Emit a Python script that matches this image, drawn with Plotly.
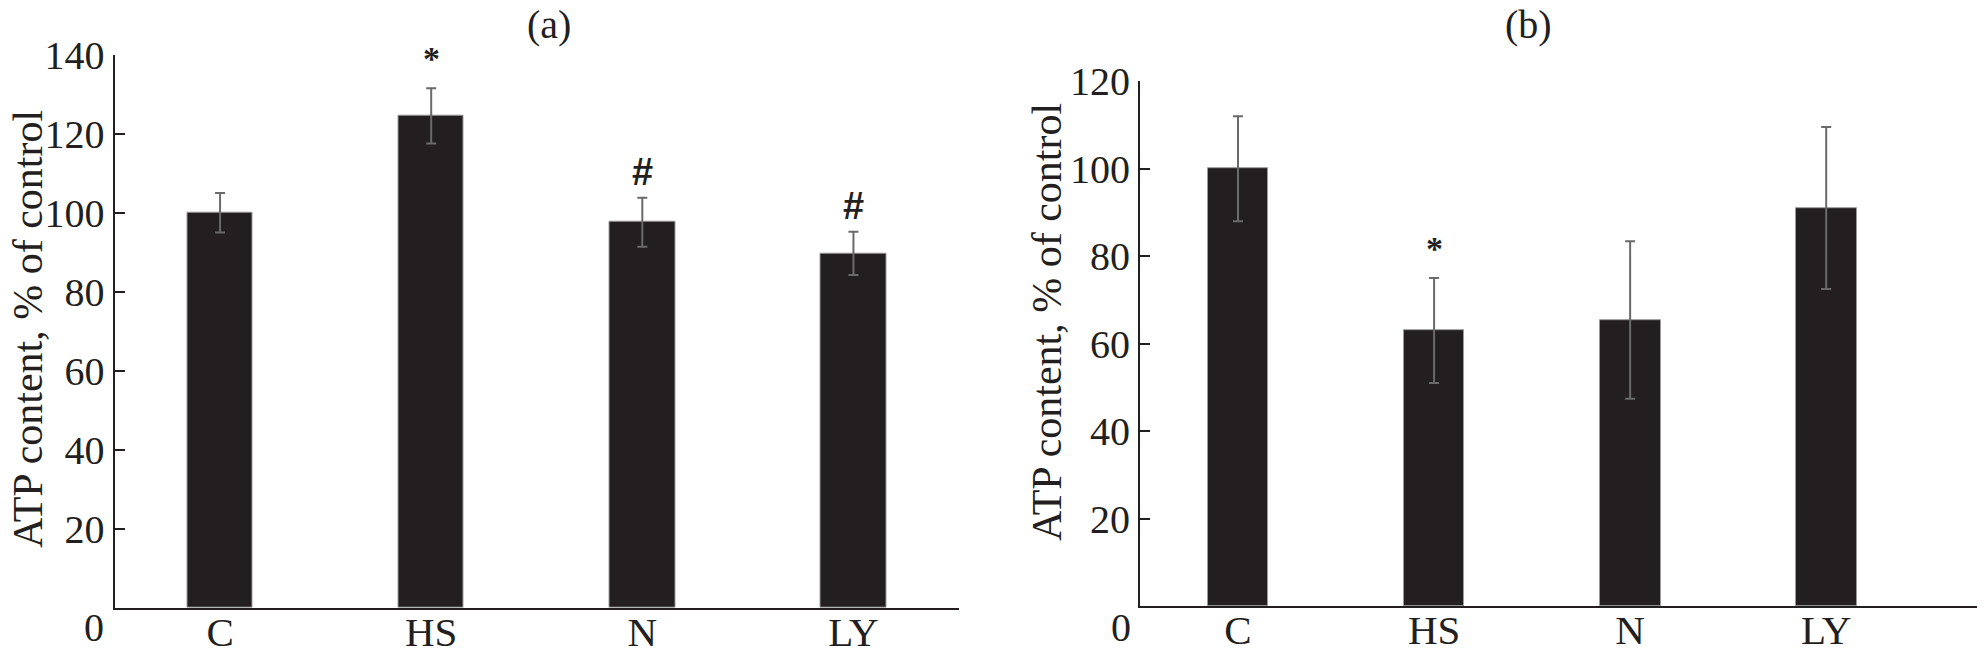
import plotly.graph_objects as go

groups = ["C", "HS", "N", "LY"]

# panel (a)
atp_a = [100, 124.5, 97.6, 89.7]
err_a = [5, 7, 6.2, 5.5]
marks_a = ["", "*", "#", "#"]

# panel (b)
atp_b = [100, 63, 65.4, 91]
err_b = [12, 12, 18, 18.5]
marks_b = ["", "*", "", ""]

ticks_a = [20, 40, 60, 80, 100, 120, 140]
ticks_b = [20, 40, 60, 80, 100, 120]

# page has an 8px body margin, so the figure is shrunk to fit the window
PAD = 8
W, H = 1985 - PAD, 655 - PAD
ink = "#231f20"
serif = "Liberation Serif"


def px(x):
    return (x - PAD) / W


def py(y):
    return 1 - (y - PAD) / H


fig = go.Figure()


def add_panel(vals, errs, xa, ya):
    fig.add_trace(go.Bar(
        x=groups, y=vals, width=0.31,
        marker=dict(color=ink, line=dict(color="#9a9a9a", width=1)),
        error_y=dict(type="data", array=errs, visible=True,
                     color="#6a6a6a", thickness=2, width=5),
        xaxis=xa, yaxis=ya, showlegend=False,
    ))


add_panel(atp_a, err_a, "x", "y")
add_panel(atp_b, err_b, "x2", "y2")

axis_common = dict(showline=True, linecolor=ink, linewidth=2,
                   showgrid=False, zeroline=False, automargin=False,
                   tickfont=dict(family=serif, size=40, color=ink))
x_common = dict(ticks="", ticklen=0, ticklabelstandoff=-13)

fig.update_layout(
    width=W, height=H,
    margin=dict(l=0, r=0, t=0, b=0, autoexpand=False),
    paper_bgcolor="white", plot_bgcolor="white",
    bargap=0,
    xaxis=dict(domain=[px(114.5), px(959)], range=[-0.5, 3.5],
               anchor="y", **x_common, **axis_common),
    yaxis=dict(domain=[py(607.7), py(54.7)], range=[0, 140],
               tickvals=ticks_a, ticks="inside", ticklen=10, tickwidth=2,
               tickcolor=ink, anchor="x", **axis_common),
    xaxis2=dict(domain=[px(1140), 1.0], range=[-0.5, 3.81],
                anchor="y2", **x_common, **axis_common),
    yaxis2=dict(domain=[py(606), py(81.2)], range=[0, 120],
                tickvals=ticks_b, ticks="inside", ticklen=10, tickwidth=2,
                tickcolor=ink, anchor="x2", **axis_common),
)
fig.update_xaxes(tickfont=dict(family=serif, size=41, color=ink))

ann = []
txt = dict(family=serif, color=ink)

# significance marks above error bars
for xr, yr, vals, errs, marks in [("x", "y", atp_a, err_a, marks_a),
                                  ("x2", "y2", atp_b, err_b, marks_b)]:
    for g, v, e, m in zip(groups, vals, errs, marks):
        if not m:
            continue
        if m == "*":
            ann.append(dict(x=g, y=v + e, xref=xr, yref=yr, text="<b>*</b>",
                            showarrow=False, yanchor="bottom", yshift=9,
                            font=dict(size=34, **txt)))
        else:
            ann.append(dict(x=g, y=v + e, xref=xr, yref=yr, text="<b>#</b>",
                            showarrow=False, yanchor="bottom", yshift=3,
                            font=dict(size=38, family="Liberation Sans",
                                      color=ink)))


def label(x, y, text, size, angle=0):
    ann.append(dict(x=px(x), y=py(y), xref="paper", yref="paper",
                    xanchor="center", yanchor="middle", text=text,
                    textangle=angle, showarrow=False,
                    font=dict(size=size, **txt)))


# panel letters
label(549, 24, "(a)", 40)
label(1528, 24, "(b)", 40)

# y titles
label(28, 329, "ATP content, % of control", 42, -90)
label(1047, 322, "ATP content, % of control", 42, -90)

# zero labels sitting on the category row
label(94, 627, "0", 40)
label(1121, 627, "0", 40)

fig.update_layout(annotations=ann)

fig.write_html("out.html")
